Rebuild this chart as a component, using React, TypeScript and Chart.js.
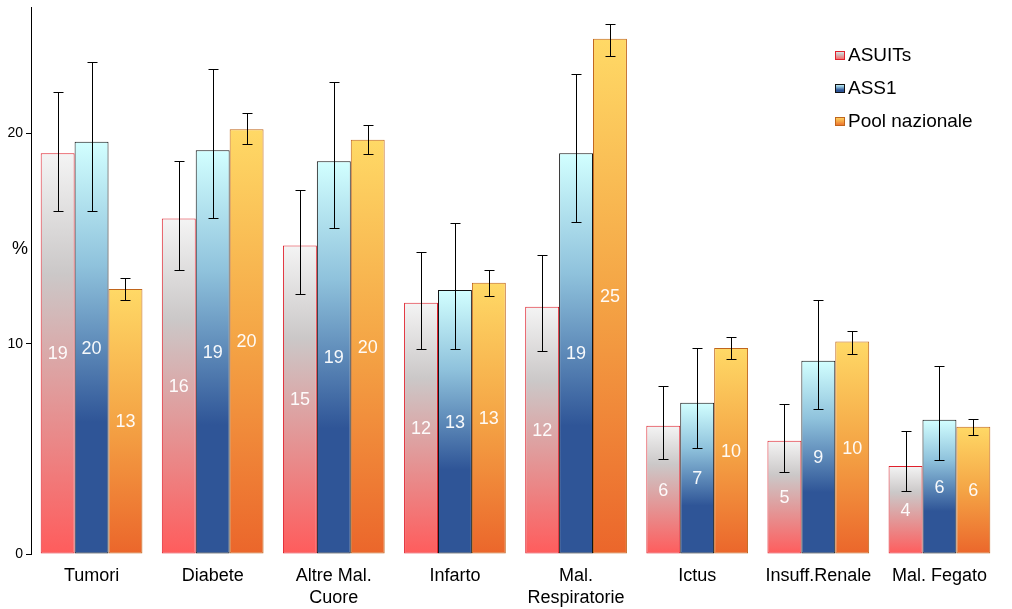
import React, { useEffect, useRef } from "react";
import { Chart, registerables } from "chart.js";

Chart.register(...registerables);

const categories: (string | string[])[] = [
  "Tumori",
  "Diabete",
  ["Altre Mal.", "Cuore"],
  "Infarto",
  ["Mal.", "Respiratorie"],
  "Ictus",
  "Insuff.Renale",
  "Mal. Fegato",
];

const seriesNames = ["ASUITs", "ASS1", "Pool nazionale"];

const asuits = [19.05, 15.95, 14.67, 11.95, 11.76, 6.1, 5.38, 4.19];
const ass1 = [19.6, 19.2, 18.67, 12.55, 19.05, 7.19, 9.19, 6.38];
const pool = [12.6, 20.2, 19.7, 12.9, 24.5, 9.8, 10.1, 6.05];

const asuitsLow = [16.33, 13.5, 12.38, 9.76, 9.67, 4.52, 3.9, 3.0];
const asuitsHigh = [21.95, 18.67, 17.33, 14.38, 14.24, 8.0, 7.14, 5.86];
const ass1Low = [16.3, 16.0, 15.52, 9.76, 15.8, 5.05, 6.9, 4.48];
const ass1High = [23.4, 23.05, 22.43, 15.76, 22.8, 9.8, 12.1, 8.95];
const poolLow = [12.1, 19.5, 19.0, 12.29, 23.67, 9.29, 9.5, 5.67];
const poolHigh = [13.1, 20.95, 20.38, 13.52, 25.2, 10.33, 10.6, 6.43];

const yTicks = [0, 10, 20];

const FONT = "Arial, 'Liberation Sans', sans-serif";

const gradStops: [number, string][][] = [
  [
    [0, "#f4f4f4"],
    [0.3, "#cbc8c8"],
    [1, "#ff5c5c"],
  ],
  [
    [0, "#d2ffff"],
    [0.3, "#8fc2dc"],
    [0.68, "#2f5597"],
    [1, "#2f5597"],
  ],
  [
    [0, "#ffd966"],
    [0.5, "#f4a445"],
    [1, "#eb662b"],
  ],
];
const borderColors = ["#e0202c", "#111111", "#c0651c"];

function makeGradient(ctx: any, di: number) {
  const chart = ctx.chart;
  const y = chart.scales?.y;
  if (!y || ctx.type !== "data") return gradStops[di][0][1];
  const v = ctx.raw as number;
  const top = y.getPixelForValue(v);
  const bot = y.getPixelForValue(0);
  if (!isFinite(top) || !isFinite(bot) || top === bot) return gradStops[di][0][1];
  const g = chart.ctx.createLinearGradient(0, top, 0, bot);
  gradStops[di].forEach(([o, c]) => g.addColorStop(o, c));
  return g;
}

const errLows = [asuitsLow, ass1Low, poolLow];
const errHighs = [asuitsHigh, ass1High, poolHigh];

const overlayPlugin = {
  id: "overlay",
  afterDatasetsDraw(chart: any) {
    const ctx = chart.ctx;
    const y = chart.scales.y;
    ctx.save();
    // value labels
    chart.data.datasets.forEach((ds: any, di: number) => {
      const meta = chart.getDatasetMeta(di);
      meta.data.forEach((bar: any, i: number) => {
        const v = ds.data[i];
        const mid = (bar.y + bar.base) / 2;
        ctx.fillStyle = "rgba(255,255,255,0.95)";
        ctx.font = `18px ${FONT}`;
        ctx.textAlign = "center";
        ctx.textBaseline = "middle";
        ctx.fillText(String(Math.round(v)), bar.x, mid + 1);
      });
    });
    // error bars
    ctx.strokeStyle = "#000";
    ctx.lineWidth = 1;
    chart.data.datasets.forEach((ds: any, di: number) => {
      const meta = chart.getDatasetMeta(di);
      meta.data.forEach((bar: any, i: number) => {
        const x = Math.round(bar.x) + 0.5;
        const yl = Math.round(y.getPixelForValue(errLows[di][i])) + 0.5;
        const yh = Math.round(y.getPixelForValue(errHighs[di][i])) + 0.5;
        ctx.beginPath();
        ctx.moveTo(x, yl);
        ctx.lineTo(x, yh);
        ctx.moveTo(x - 5, yl);
        ctx.lineTo(x + 5, yl);
        ctx.moveTo(x - 5, yh);
        ctx.lineTo(x + 5, yh);
        ctx.stroke();
      });
    });
    // legend
    const lx = 835;
    const ly = [55, 88, 121];
    seriesNames.forEach((name, di) => {
      const g = ctx.createLinearGradient(0, ly[di] - 4, 0, ly[di] + 5);
      gradStops[di].forEach(([o, c]) => g.addColorStop(o, c));
      ctx.fillStyle = g;
      ctx.fillRect(lx, ly[di] - 4, 10, 9);
      ctx.strokeStyle = borderColors[di];
      ctx.strokeRect(lx + 0.5, ly[di] - 3.5, 9, 8);
      ctx.fillStyle = "#000";
      ctx.font = `19px ${FONT}`;
      ctx.textAlign = "left";
      ctx.textBaseline = "middle";
      ctx.fillText(name, lx + 13, ly[di] + 1);
    });
    // % label
    ctx.fillStyle = "#000";
    ctx.font = `18px ${FONT}`;
    ctx.textAlign = "center";
    ctx.textBaseline = "middle";
    ctx.fillText("%", 20, 249);
    ctx.restore();
  },
};

export default function App() {
  const ref = useRef<HTMLCanvasElement | null>(null);
  useEffect(() => {
    document.body.style.margin = "0";
    const canvas = ref.current!;
    const seriesData = [asuits, ass1, pool];
    const chart = new Chart(canvas, {
      type: "bar",
      data: {
        labels: categories as any,
        datasets: seriesData.map((d, di) => ({
          label: seriesNames[di],
          data: d,
          backgroundColor: (ctx: any) => makeGradient(ctx, di),
          borderColor: borderColors[di],
          borderWidth: 1,
          borderSkipped: false,
          categoryPercentage: 0.84,
          barPercentage: 1.0,
        })),
      },
      options: {
        animation: false,
        responsive: false,
        maintainAspectRatio: false,
        layout: { padding: { top: 6, right: 12, left: 0, bottom: 0 } },
        plugins: {
          legend: { display: false },
          tooltip: { enabled: false },
        },
        scales: {
          x: {
            grid: { display: false },
            border: { display: false },
            ticks: {
              color: "#000",
              font: { family: FONT, size: 18, lineHeight: 1.17 },
              padding: 4,
              maxRotation: 0,
              autoSkip: false,
            },
            afterFit: (s: any) => {
              s.height = 55;
            },
          },
          y: {
            min: 0,
            max: 26,
            afterBuildTicks: (s: any) => {
              s.ticks = yTicks.map((v) => ({ value: v }));
            },
            grid: {
              display: true,
              drawOnChartArea: false,
              drawTicks: true,
              tickLength: 5,
              color: "#000",
            },
            border: { display: true, color: "#000", width: 1 },
            ticks: {
              color: "#000",
              font: { family: FONT, size: 14, lineHeight: 0.6 },
              padding: 3,
            },
            afterFit: (s: any) => {
              s.width = 31;
            },
          },
        },
      },
      plugins: [overlayPlugin],
    });
    return () => chart.destroy();
  }, []);
  return (
    <div style={{ width: 1012, height: 609 }}>
      <canvas ref={ref} width={1012} height={609} style={{ display: "block" }} />
    </div>
  );
}
